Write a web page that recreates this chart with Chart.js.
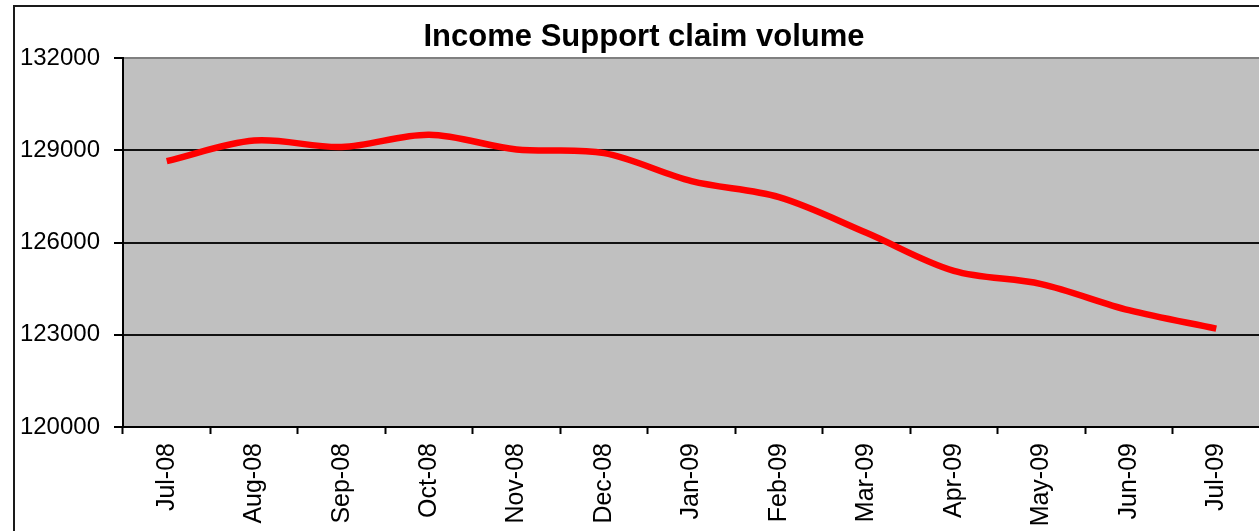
<!DOCTYPE html>
<html>
<head>
<meta charset="utf-8">
<script src="https://cdn.jsdelivr.net/npm/chart.js@4/dist/chart.umd.min.js"></script>
<style>
  html, body { margin: 0; padding: 0; background: #fff; overflow: hidden; }
  #frame { position: absolute; left: 13px; top: 5px; width: 1400px; height: 700px; border: 2px solid #1a1a1a; }
  #wrap { position: absolute; left: 0; top: 0; width: 1260px; height: 531px; }
</style>
</head>
<body>
<div id="frame"></div>
<div id="wrap"><canvas id="line-chart"></canvas></div>
<script>
const months = ['Jul-08', 'Aug-08', 'Sep-08', 'Oct-08', 'Nov-08', 'Dec-08', 'Jan-09', 'Feb-09', 'Mar-09', 'Apr-09', 'May-09', 'Jun-09', 'Jul-09'];
const claims = [128650, 129320, 129110, 129510, 129030, 128910, 128000, 127480, 126320, 125080, 124650, 123800, 123200];
const yTicks = [120000, 123000, 126000, 129000, 132000];

const FONT = "Arial, 'Liberation Sans', sans-serif";

// grey plot background like the excel chart
const plotBg = {
  id: 'plotBg',
  afterLayout(chart) {
    // let the y labels run past the padded axis box (they're clipped otherwise)
    chart.scales.y.left = 0;
  },
  beforeDraw(chart) {
    const a = chart.chartArea;
    const ctx = chart.ctx;
    ctx.save();
    ctx.fillStyle = '#c0c0c0';
    ctx.fillRect(a.left, a.top, a.right - a.left, a.bottom - a.top);
    ctx.restore();
  }
};

const drawChart = () => {
  new Chart(document.getElementById('line-chart'), {
    type: 'line',
    data: {
      labels: months,
      datasets: [{
        label: 'Income Support',
        data: claims,
        borderColor: '#ff0000',
        borderWidth: 6.5,
        tension: 0.33,
        pointRadius: 0,
        fill: false
      }]
    },
    options: {
      responsive: true,
      maintainAspectRatio: false,
      animation: false,
      layout: { padding: { left: 28, right: 0, top: 0, bottom: 0 } },
      plugins: {
        legend: { display: false },
        tooltip: { enabled: false },
        title: {
          display: true,
          text: 'Income Support claim volume',
          color: '#000',
          font: { family: FONT, size: 31, weight: 'bold', lineHeight: 1.2 },
          padding: { top: 19, bottom: 2 }
        }
      },
      scales: {
        x: {
          type: 'category',
          offset: true,
          grid: { offset: true, drawOnChartArea: false, drawTicks: true, tickLength: 7, tickColor: '#000', tickWidth: 2 },
          border: { display: true, color: '#000', width: 2 },
          ticks: {
            autoSkip: false, maxRotation: 90, minRotation: 90, padding: 9,
            color: '#000', font: { family: FONT, size: 25 }
          },
          afterFit(scale) { scale.height = 104; }
        },
        y: {
          min: 120000,
          max: 132000,
          afterBuildTicks(scale) { scale.ticks = yTicks.map(v => ({ value: v })); },
          grid: {
            color: (c) => c.tick && c.tick.value === 132000 ? '#808080' : '#111',
            lineWidth: 2,
            drawTicks: true, tickLength: 9, tickColor: '#000', tickWidth: 2
          },
          border: { display: true, color: '#000', width: 2 },
          ticks: {
            padding: 14, color: '#000', font: { family: FONT, size: 24 },
            callback: (v) => String(v)
          },
          afterFit(scale) { scale.width = 95; }
        }
      }
    },
    plugins: [plotBg]
  });
};

drawChart();
</script>
</body>
</html>
